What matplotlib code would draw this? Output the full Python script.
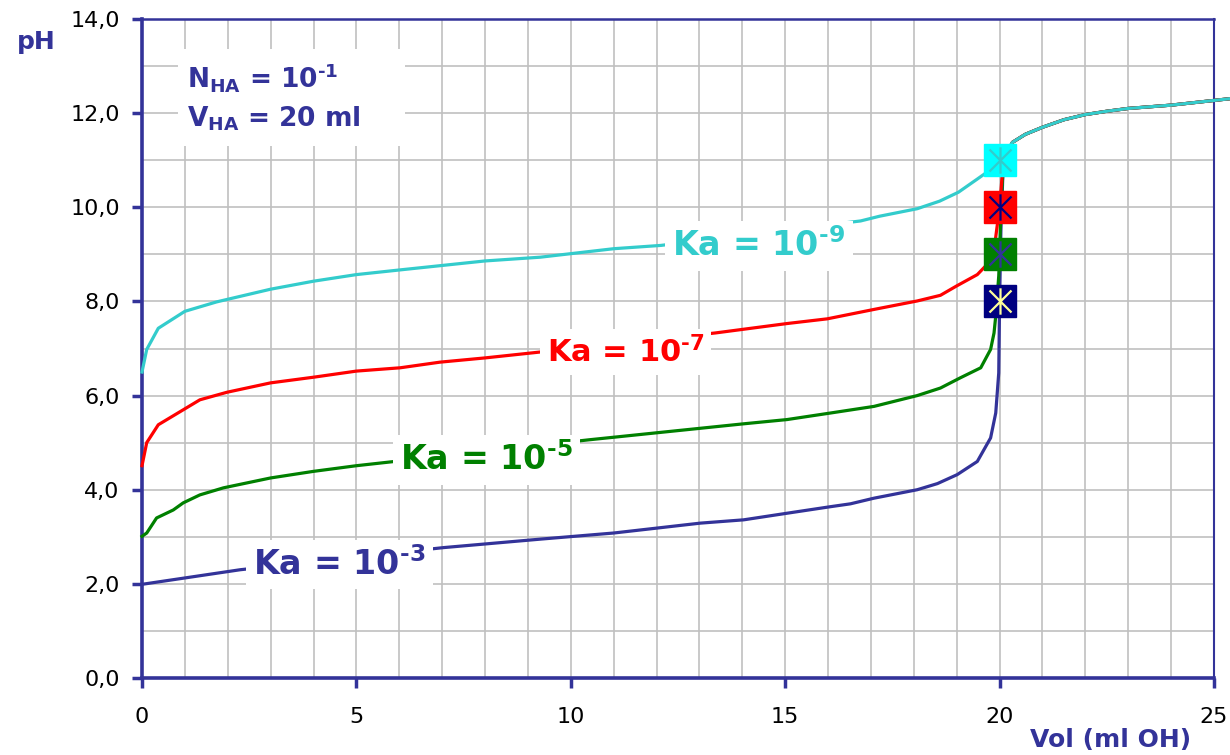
import matplotlib
matplotlib.use("Agg")
import matplotlib.pyplot as plt
from matplotlib.path import Path
from matplotlib.patches import Rectangle

# ---------------- data ----------------
x_ka3 = [0, 2.29, 7.03, 9.29, 11.0, 13.02, 14.03, 15.04, 16.06, 16.52, 17.07, 18.08,
         18.55, 19.01, 19.48, 19.79, 19.91, 19.98, 20.0, 20.03, 20.08, 20.15]
ph_ka3 = [1.99, 2.30, 2.77, 2.95, 3.08, 3.29, 3.36, 3.50, 3.64, 3.70, 3.82, 4.00,
          4.13, 4.32, 4.60, 5.10, 5.63, 6.48, 8.00, 9.50, 10.80, 11.10]

x_ka5 = [0, 0.11, 0.34, 0.73, 0.96, 1.35, 1.9, 3.0, 4.0, 5.0, 5.79, 10.42, 12.01, 14.03,
         15.04, 16.06, 17.07, 18.08, 18.62, 19.09, 19.56, 19.79, 19.87, 19.91, 19.98,
         20.0, 20.03, 20.08, 20.15]
ph_ka5 = [3.01, 3.08, 3.40, 3.57, 3.72, 3.89, 4.04, 4.25, 4.39, 4.51, 4.59, 5.06, 5.21, 5.40,
          5.49, 5.63, 5.77, 6.00, 6.16, 6.38, 6.59, 6.98, 7.33, 7.69, 8.54,
          9.00, 10.00, 10.80, 11.10]

x_ka7 = [0, 0.11, 0.38, 1.35, 1.98, 3.0, 4.0, 5.0, 6.02, 6.95, 8.0, 9.13, 13.37, 15.04,
         15.98, 17.07, 18.08, 18.62, 19.0, 19.48, 19.67, 19.9, 20.0, 20.06, 20.15]
ph_ka7 = [4.51, 5.00, 5.38, 5.91, 6.07, 6.27, 6.39, 6.52, 6.59, 6.71, 6.80, 6.91, 7.33, 7.53,
          7.63, 7.83, 8.01, 8.13, 8.33, 8.57, 8.75, 9.30, 10.00, 10.67, 11.05]

x_ka9 = [0, 0.11, 0.38, 1.0, 1.74, 3.0, 4.0, 5.0, 6.02, 8.0, 9.29, 11.0, 12.1, 16.76,
         17.2, 18.08, 18.6, 19.04, 19.48, 19.79, 20.0]
ph_ka9 = [6.50, 6.98, 7.43, 7.79, 7.99, 8.26, 8.43, 8.57, 8.67, 8.86, 8.94, 9.12, 9.19, 9.71,
          9.81, 9.97, 10.13, 10.32, 10.60, 10.80, 11.00]

# common part after the equivalence point
x_tail = [20.3, 20.6, 21.0, 21.5, 22.0, 22.5, 23.0, 24.0, 25.0, 25.5]
ph_tail = [11.38, 11.55, 11.70, 11.86, 11.97, 12.04, 12.10, 12.17, 12.27, 12.32]

# equivalence markers
eq_vol = [20, 20, 20, 20]
eq_ph = [8.0, 9.0, 10.0, 11.0]

HY = '\u2010'
series_labels = ["Ka = 10$^{\\mathbf{" + HY + "3}}$", "Ka = 10$^{\\mathbf{" + HY + "5}}$",
                 "Ka = 10$^{\\mathbf{" + HY + "7}}$", "Ka = 10$^{\\mathbf{" + HY + "9}}$"]
x_ticks = [0, 5, 10, 15, 20, 25]
x_tick_labels = ["0", "5", "10", "15", "20", "25"]
y_ticks = [0, 2, 4, 6, 8, 10, 12, 14]
y_tick_labels = ["0,0", "2,0", "4,0", "6,0", "8,0", "10,0", "12,0", "14,0"]
info_text = ("N$_{\\mathbf{HA}}$ = 10$^{\\mathbf{" + HY + "1}}$\n"
             "V$_{\\mathbf{HA}}$ = 20 ml")

# ---------------- styling ----------------
plt.rcParams['font.family'] = ['DejaVu Sans']
plt.rcParams['mathtext.fontset'] = 'dejavusans'
AXC = '#333399'
colors = ['#333399', '#008000', '#ff0000', '#33cccc']
mk_face = ['#000080', '#008000', '#ff0000', '#00ffff']
mk_star = ['#ffff99', '#333399', '#000080', '#33cccc']

fig = plt.figure(figsize=(12.3, 7.55), dpi=100)
W, H = 1230, 755
ax = fig.add_axes([142 / W, 1 - 678 / H, (1214 - 142) / W, (678 - 19) / H])
ax.set_xlim(0, 25)
ax.set_ylim(0, 14)
ax.set_axisbelow(True)

ax.set_xticks(x_ticks)
ax.set_xticklabels(x_tick_labels)
ax.set_yticks(y_ticks)
ax.set_yticklabels(y_tick_labels)
ax.set_xticks(range(0, 26), minor=True)
ax.set_yticks(range(0, 15), minor=True)
ax.grid(True, which='both', color='#c0c0c0', lw=1.2)
ax.tick_params(which='major', direction='out', length=7, width=2.5, color=AXC,
               labelcolor='black', labelsize=16)
ax.tick_params(axis='x', which='major', pad=14)
ax.tick_params(axis='y', which='major', pad=9)
ax.tick_params(which='minor', length=0)

for side, lw in [('left', 2.6), ('bottom', 2.6), ('top', 1.8), ('right', 1.5)]:
    ax.spines[side].set_color(AXC)
    ax.spines[side].set_linewidth(lw)

xs = [x_ka3, x_ka5, x_ka7, x_ka9]
ps = [ph_ka3, ph_ka5, ph_ka7, ph_ka9]
for i in range(4):
    ax.plot(xs[i] + x_tail, ps[i] + ph_tail, color=colors[i], lw=2.3, zorder=3 + i * 0.1,
            clip_on=False, solid_joinstyle='round')

star = Path([(-1, -1), (1, 1), (-1, 1), (1, -1), (0, -1.2), (0, 1.2)],
            [Path.MOVETO, Path.LINETO, Path.MOVETO, Path.LINETO, Path.MOVETO, Path.LINETO])
for i in range(4):
    ax.plot(eq_vol[i], eq_ph[i], marker='s', ms=23.5, mfc=mk_face[i], mec=mk_face[i],
            zorder=5, clip_on=False)
    ax.plot(eq_vol[i], eq_ph[i], marker=star, ms=19, mfc='none', mec=mk_star[i], mew=1.6,
            zorder=5.1, clip_on=False)

# series labels
lab_pos = [(2.6, 2.19, 24), (6.02, 4.41, 24), (9.44, 6.71, 22), (12.37, 8.96, 24)]
for i in range(4):
    lx, ly, fs = lab_pos[i]
    ax.text(lx, ly, series_labels[i], color=colors[i], fontsize=fs, fontweight='bold',
            ha='left', va='baseline', zorder=6,
            bbox=dict(boxstyle='square,pad=0.22', fc='white', ec='none'))

# info box
ax.add_patch(Rectangle((0.84, 11.3), 5.3, 2.06, fc='white', ec='none', zorder=2))
ax.text(1.05, 11.72, info_text, color=AXC, fontsize=19, fontweight='bold',
        ha='left', va='baseline', linespacing=1.45, zorder=6)

fig.text(36 / W, 1 - 42 / H, "pH", color=AXC, fontsize=18, fontweight='bold',
         ha='center', va='center')
fig.text(1111 / W, 1 - 740 / H, "Vol (ml OH)", color=AXC, fontsize=18, fontweight='bold',
         ha='center', va='center')

fig.savefig("out.png", dpi=100)
